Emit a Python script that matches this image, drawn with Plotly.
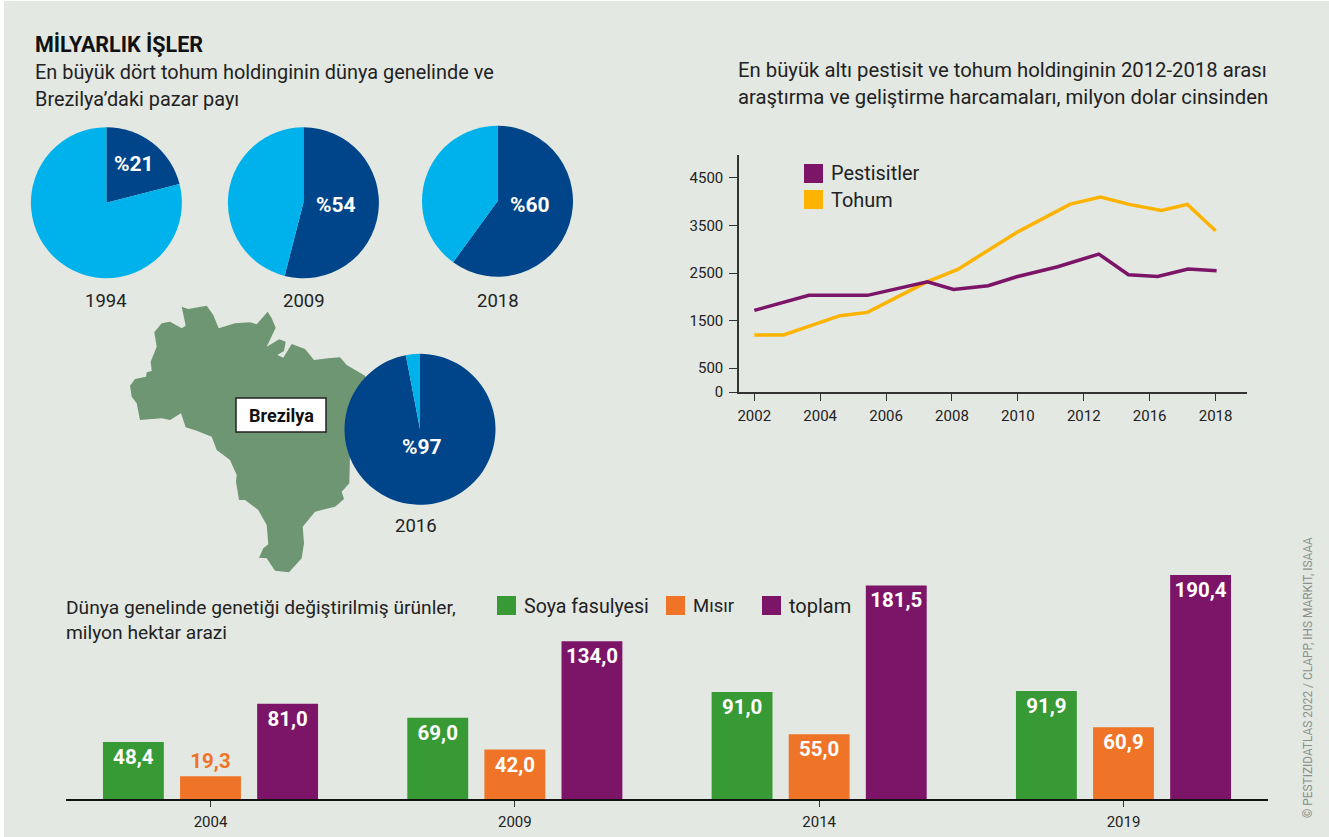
import plotly.graph_objects as go

W, H = 1329, 837
BG = "#e3e8e2"
DARK = "#004589"
LIGHT = "#00b2ec"
GREEN = "#389a34"
ORANGE = "#f07427"
PURPLE = "#7c1468"
YELLOW = "#fdb300"
MAP = "#6f9673"
INK = "#222222"
FONT = "Roboto"

# ---- data ----
pie_years = ["1994", "2009", "2018", "2016"]
pie_shares = [21, 54, 60, 97]
pie_rest = [79, 46, 40, 3]

line_tick_labels = ["2002", "2004", "2006", "2008", "2010", "2012", "2016", "2018"]
line_y_ticks = [0, 500, 1500, 2500, 3500, 4500]
pest_x = [0, 0.444, 0.829, 1.717, 2.628, 3.023, 3.549, 3.982, 4.605, 5.228, 5.678, 6.122, 6.583, 7.016]
pest_y = [1715, 1883, 2030, 2030, 2317, 2156, 2233, 2422, 2632, 2898, 2464, 2429, 2583, 2548]
seed_x = [0, 0.444, 1.300, 1.717, 2.628, 3.088, 3.982, 4.795, 5.255, 5.689, 6.177, 6.572, 7.0]
seed_y = [1197, 1197, 1603, 1673, 2317, 2576, 3353, 3948, 4095, 3941, 3815, 3941, 3388]

bar_years = ["2004", "2009", "2014", "2019"]
soy = [48.4, 69.0, 91.0, 91.9]
corn = [19.3, 42.0, 55.0, 60.9]
total = [81.0, 134.0, 181.5, 190.4]

brazil_x = [181.7, 188.3, 206.7, 213.3, 218.7, 235, 250, 256.7, 267.7, 271.7, 275.7, 266.7, 279.3, 285.7, 284,
            277.3, 283.3, 291.7, 305, 314, 328.3, 340, 346.7, 365, 373.3, 360, 350, 349.3, 341.7, 344, 335, 315,
            302.7, 304, 301.7, 289, 275, 266.7, 259, 263.3, 268.3, 266.7, 258.3, 245, 239, 236, 236.7, 230, 216.7,
            211.7, 196.7, 185.7, 181, 170, 161.7, 140, 136.7, 131.7, 130, 135, 146, 146.7, 151.7, 150.7, 156.7,
            154.3, 161.7, 170, 181.7, 185.7, 181.7]
brazil_y = [306.7, 309, 305.7, 315, 328.3, 323.3, 322.3, 324.3, 311.7, 318.3, 327.7, 346.7, 339.3, 341.7, 351,
            355, 357.7, 344, 349, 360, 358.3, 357.3, 365, 375.7, 395, 428.3, 455, 483.3, 491.7, 499, 506.7, 511.7,
            526.7, 543.3, 558.3, 572.3, 570.7, 558.3, 557.7, 548.3, 544.3, 525, 510, 500, 500, 481.7, 475, 460,
            450, 436.7, 430.7, 427.3, 413.3, 420, 418.3, 420, 403.3, 396.7, 385.7, 379, 376.7, 372.3, 371, 361.7,
            346.7, 332.3, 323.3, 321.7, 328.3, 325.7, 306.7]

fig = go.Figure()


def fx(x):
    return x / W


def fy(y):
    return 1 - y / H


fig.add_trace(go.Scatter(x=brazil_x, y=brazil_y, mode="lines", fill="toself", fillcolor=MAP,
                         line=dict(width=0, color=MAP), hoverinfo="skip", showlegend=False,
                         xaxis="x3", yaxis="y3"))

pie_centres = [(106.4, 202.7), (303.4, 202.8), (497.5, 201.2), (420.0, 429.3)]
pie_r = 75.5
for share, rest, (cx, cy), yr in zip(pie_shares, pie_rest, pie_centres, pie_years):
    fig.add_trace(go.Pie(values=[share, rest], labels=["Holding", "Diğer"], sort=False, direction="clockwise",
                         rotation=0, textinfo="none", showlegend=False,
                         marker=dict(colors=[DARK, LIGHT], line=dict(width=0)),
                         domain=dict(x=[fx(cx - pie_r), fx(cx + pie_r)], y=[fy(cy + pie_r), fy(cy - pie_r)]),
                         name=yr))

fig.add_trace(go.Scatter(x=seed_x, y=seed_y, mode="lines", name="Tohum",
                         line=dict(color=YELLOW, width=3.5), showlegend=False, xaxis="x", yaxis="y"))
fig.add_trace(go.Scatter(x=pest_x, y=pest_y, mode="lines", name="Pestisitler",
                         line=dict(color=PURPLE, width=3.5), showlegend=False, xaxis="x", yaxis="y"))


def fmt(vals):
    return [f"{v:.1f}".replace(".", ",") for v in vals]


for name, vals, col in [("Soya fasulyesi", soy, GREEN), ("Mısır", corn, ORANGE), ("toplam", total, PURPLE)]:
    small = [v < 30 for v in vals]
    fig.add_trace(go.Bar(x=bar_years, y=vals, name=name, marker=dict(color=col, line=dict(width=0)),
                         text=fmt(vals), textangle=0, constraintext="none", cliponaxis=False,
                         textposition=["outside" if s else "inside" for s in small],
                         insidetextanchor="end",
                         textfont=dict(family=FONT, size=20.5, weight=700,
                                       color=[ORANGE if s else "white" for s in small]),
                         showlegend=False, xaxis="x2", yaxis="y2"))

annos = []


def label(text, x, y, size=20, bold=False, color=INK, anchor="left", angle=0):
    annos.append(dict(text=f"<b>{text}</b>" if bold else text, x=fx(x), y=fy(y), xref="paper", yref="paper",
                      xanchor=anchor, yanchor="middle", showarrow=False, textangle=angle,
                      font=dict(family=FONT, size=size, color=color)))


label("MİLYARLIK İŞLER", 33, 45, size=21.5, bold=True, color="#111111")
label("En büyük dört tohum holdinginin dünya genelinde ve", 33, 73, size=19.9)
label("Brezilya’daki pazar payı", 33, 100, size=19.9)
label("En büyük altı pestisit ve tohum holdinginin 2012-2018 arası", 736, 70, size=20.3)
label("araştırma ve geliştirme harcamaları, milyon dolar cinsinden", 736, 97, size=20.3)
label("Dünya genelinde genetiği değiştirilmiş ürünler,", 64, 607, size=19.2)
label("milyon hektar arazi", 64, 632, size=19.2)

for yr, x, y in [("1994", 106, 301), ("2009", 303.5, 301), ("2018", 497.5, 301), ("2016", 416, 526)]:
    label(yr, x, y, size=18.5, anchor="center")

for share, x, y in [(21, 134, 164), (54, 336, 205), (60, 530, 205), (97, 422, 447)]:
    label(f"%{share}", x, y, size=21, bold=True, color="white", anchor="center")

label("Brezilya", 281, 415, size=18, bold=True, color="#111111", anchor="center")
label("Pestisitler", 829, 174, size=19.9)
label("Tohum", 829, 200, size=19.9)
label("Soya fasulyesi", 522, 606, size=19.6)
label("Mısır", 691, 606, size=18.5)
label("toplam", 787, 606, size=20)
label("© PESTIZIDATLAS 2022 / CLAPP, IHS MARKIT, ISAAA", 1308, 678, size=11.9, color="#8b908b",
      anchor="center", angle=-90)

shapes = [dict(type="rect", xref="paper", yref="paper", x0=fx(4), x1=1, y0=0, y1=fy(1), fillcolor=BG,
               line=dict(width=0), layer="below")]


def box(x0, y0, x1, y1, color, line=None):
    shapes.append(dict(type="rect", xref="paper", yref="paper", x0=fx(x0), x1=fx(x1), y0=fy(y1), y1=fy(y0),
                       fillcolor=color, line=line or dict(width=0), layer="above"))


box(804, 164, 823, 183, PURPLE)
box(804, 190, 823, 209, YELLOW)
box(497, 596, 516, 615, GREEN)
box(666, 596, 685, 615, ORANGE)
box(762, 596, 781, 615, PURPLE)
box(236, 398, 326, 432, "white", dict(color="#222222", width=1.5))

L_X0, L_X1, L_Y0, L_Y1 = 739, 1247, 392, 155
B_X0, B_X1, B_Y0, B_Y1 = 66, 1268, 799, 560

fig.update_layout(
    width=W, height=H, autosize=False, margin=dict(l=0, r=0, t=0, b=0, autoexpand=False),
    paper_bgcolor="white", plot_bgcolor="rgba(0,0,0,0)", font=dict(family=FONT, color=INK),
    showlegend=False, barmode="group", bargap=0.24, bargroupgap=0.2105,
    annotations=annos, shapes=shapes,
    xaxis=dict(domain=[fx(L_X0), fx(L_X1)], anchor="y", range=[-0.232, 7.477], tickmode="array",
               tickvals=list(range(len(line_tick_labels))), ticktext=line_tick_labels, automargin=False,
               showgrid=False, zeroline=False, showline=True, linecolor="#333333", linewidth=1.5,
               ticks="outside", ticklen=7, tickwidth=1.2, tickcolor="#333333", ticklabelstandoff=2,
               tickfont=dict(family=FONT, size=15, color=INK)),
    yaxis=dict(domain=[fy(L_Y0), fy(L_Y1)], anchor="x", range=[0, (L_Y0 - L_Y1) / 47.6 * 1000], tickmode="array",
               tickvals=line_y_ticks, ticktext=[str(v) for v in line_y_ticks], automargin=False,
               showgrid=False, zeroline=False, showline=True, linecolor="#333333", linewidth=1.5,
               ticks="outside", ticklen=8, tickwidth=1.2, tickcolor="#333333", ticklabelstandoff=3,
               tickfont=dict(family=FONT, size=15, color=INK)),
    xaxis2=dict(domain=[fx(B_X0), fx(B_X1)], anchor="y2", type="category", range=[-0.4748, 3.4748], automargin=False,
                showgrid=False, zeroline=False, showline=True, linecolor="#111111", linewidth=1.5,
                ticks="outside", ticklen=6, tickwidth=1.2, tickcolor="#333333", ticklabelstandoff=2,
                tickfont=dict(family=FONT, size=15, color=INK)),
    yaxis2=dict(domain=[fy(B_Y0), fy(B_Y1)], anchor="x2", range=[0, (B_Y0 - B_Y1) / 1.1765], visible=False, automargin=False),
    xaxis3=dict(domain=[0, 1], range=[0, W], visible=False, anchor="y3", automargin=False),
    yaxis3=dict(domain=[0, 1], range=[H, 0], visible=False, anchor="x3", automargin=False),
)

fig.write_html("out.html", config=dict(displayModeBar=False),
               post_script="document.documentElement.style.overflow='hidden';"
                           "document.body.style.margin='0';document.body.style.overflow='hidden';")
